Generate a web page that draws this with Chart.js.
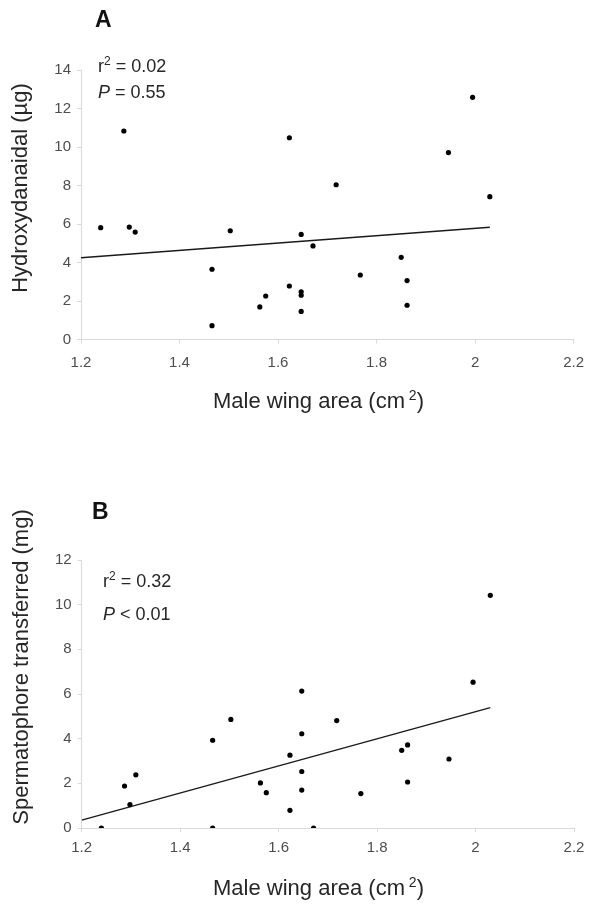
<!DOCTYPE html>
<html>
<head>
<meta charset="utf-8">
<script src="https://cdn.jsdelivr.net/npm/chart.js@4/dist/chart.umd.min.js"></script>
<style>
  body { margin: 0; background: #fff; }
  .panel { position: absolute; left: 0; width: 594px; }
</style>
</head>
<body>
<div class="panel" style="top:0;height:450px"><canvas id="chartA"></canvas></div>
<div class="panel" style="top:450px;height:459px"><canvas id="chartB"></canvas></div>
<script>
// male wing area (cm2), same males in both panels
const wingArea = [1.24, 1.287, 1.298, 1.31, 1.466, 1.466, 1.503, 1.563, 1.575, 1.623, 1.623,
  1.647, 1.647, 1.647, 1.647, 1.671, 1.718, 1.767, 1.85, 1.862, 1.862, 1.946, 1.995, 2.03];
const hydroxydanaidal = [5.81, 10.83, 5.84, 5.58, 3.65, 0.72, 5.65, 1.69, 2.26, 2.78, 10.48,
  5.46, 2.48, 2.30, 1.46, 4.86, 8.04, 3.35, 4.27, 3.06, 1.78, 9.71, 12.58, 7.42];
const spermatophore = [0, 1.88, 1.05, 2.38, 3.93, 0, 4.86, 2.02, 1.58, 3.26, 0.79,
  6.13, 4.22, 2.53, 1.70, 0, 4.81, 1.54, 3.48, 3.72, 2.06, 3.09, 6.53, 10.42];

// regression line ends
const fitX = [1.2, 2.03];
const fitA = [4.25, 5.83];
const fitB = [0.35, 5.39];

const xTicks = [1.2, 1.4, 1.6, 1.8, 2, 2.2];
const yTicksA = [0, 2, 4, 6, 8, 10, 12, 14];
const yTicksB = [0, 2, 4, 6, 8, 10, 12];

const FONT = '"Liberation Sans", Arial, sans-serif';
const AXIS = '#d9d9d9';

const pairs = (xs, ys) => xs.map((x, i) => ({ x: x, y: ys[i] }));

// draw a run of text pieces: [text, size, italic, raise]
function runWidth(ctx, parts) {
  let w = 0;
  parts.forEach(p => {
    ctx.font = (p[2] ? 'italic ' : '') + p[1] + 'px ' + FONT;
    w += ctx.measureText(p[0]).width;
  });
  return w;
}
function drawRun(ctx, parts, x, y) {
  parts.forEach(p => {
    ctx.font = (p[2] ? 'italic ' : '') + p[1] + 'px ' + FONT;
    ctx.fillText(p[0], x, y - (p[3] || 0));
    x += ctx.measureText(p[0]).width;
  });
}

const notes = {
  id: 'notes',
  afterDraw(chart, args, o) {
    const ctx = chart.ctx;
    ctx.save();
    ctx.textAlign = 'left';
    ctx.textBaseline = 'alphabetic';

    ctx.fillStyle = '#111';
    ctx.font = 'bold 23px ' + FONT;
    ctx.fillText(o.letter, o.letterPos[0], o.letterPos[1]);

    ctx.fillStyle = '#262626';
    drawRun(ctx, [['r', 18], ['2', 12, false, 7], [' = ' + o.r2, 18]], o.statPos[0], o.statPos[1]);
    drawRun(ctx, [['P', 18, true], [o.p, 18]], o.statPos[0], o.statPos[2]);

    const xt = [[o.xTitle, 22], [' 2', 14, false, 8], [')', 22]];
    const xw = runWidth(ctx, xt);
    drawRun(ctx, xt, o.xTitlePos[0] - xw / 2, o.xTitlePos[1]);

    ctx.translate(o.yTitlePos[0], o.yTitlePos[1]);
    ctx.rotate(-Math.PI / 2);
    ctx.textAlign = 'center';
    ctx.textBaseline = 'middle';
    ctx.font = '22px ' + FONT;
    ctx.fillText(o.yTitle, 0, 0);
    ctx.restore();
  }
};

function makeChart(id, ys, fit, yTicks, box, text) {
  new Chart(document.getElementById(id), {
    type: 'scatter',
    data: {
      datasets: [
        {
          data: pairs(wingArea, ys),
          backgroundColor: '#000',
          borderWidth: 0,
          pointRadius: 2.6
        },
        {
          data: pairs(fitX, fit),
          showLine: true,
          borderColor: '#1a1a1a',
          borderWidth: 1.4,
          pointRadius: 0
        }
      ]
    },
    options: {
      responsive: true,
      maintainAspectRatio: false,
      animation: false,
      layout: { padding: { left: 0, right: box.right, top: box.top, bottom: 0 } },
      plugins: {
        legend: { display: false },
        tooltip: { enabled: false },
        notes: text
      },
      scales: {
        x: {
          type: 'linear',
          min: xTicks[0],
          max: xTicks[xTicks.length - 1],
          afterFit: s => { s.height = box.xHeight; },
          afterBuildTicks: s => { s.ticks = xTicks.map(v => ({ value: v })); },
          grid: { drawOnChartArea: false, color: AXIS, tickLength: 4 },
          border: { color: AXIS },
          ticks: {
            padding: box.xPad,
            color: '#4d4d4d',
            font: { family: FONT, size: 15 },
            callback: v => String(+v.toFixed(1))
          }
        },
        y: {
          min: yTicks[0],
          max: yTicks[yTicks.length - 1],
          afterFit: s => { s.width = box.left; },
          afterBuildTicks: s => { s.ticks = yTicks.map(v => ({ value: v })); },
          grid: { drawOnChartArea: false, color: AXIS, tickLength: 4 },
          border: { color: AXIS },
          ticks: {
            padding: 6,
            color: '#4d4d4d',
            font: { family: FONT, size: 15 }
          }
        }
      }
    },
    plugins: [notes]
  });
}

makeChart('chartA', hydroxydanaidal, fitA, yTicksA,
  { left: 81, right: 12, top: 70, xHeight: 110.5, xPad: 10 },
  {
    letter: 'A', letterPos: [95, 27],
    r2: '0.02', p: ' = 0.55', statPos: [98, 71.5, 98],
    xTitle: 'Male wing area (cm', xTitlePos: [318.5, 408],
    yTitle: 'Hydroxydanaidal (µg)', yTitlePos: [21, 188]
  });

makeChart('chartB', spermatophore, fitB, yTicksB,
  { left: 81.7, right: 20, top: 110, xHeight: 81, xPad: 7 },
  {
    letter: 'B', letterPos: [92, 69],
    r2: '0.32', p: ' < 0.01', statPos: [103, 137.3, 170],
    xTitle: 'Male wing area (cm', xTitlePos: [318.5, 445],
    yTitle: 'Spermatophore transferred (mg)', yTitlePos: [22, 217]
  });
</script>
</body>
</html>
